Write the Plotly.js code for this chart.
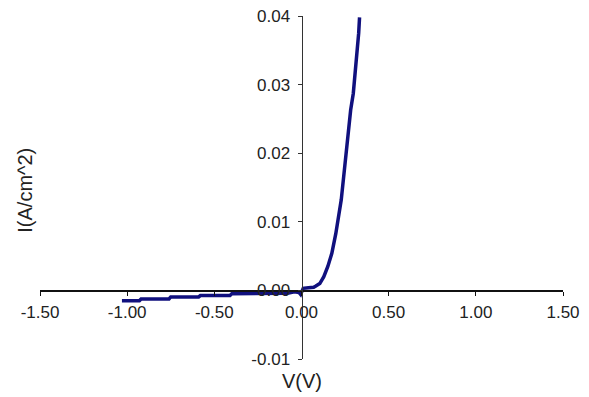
<!DOCTYPE html>
<html>
<head>
<meta charset="utf-8">
<script src="https://cdn.plot.ly/plotly-3.0.1.min.js"></script>
<style>html,body{margin:0;padding:0;background:#fff;}#chart{width:589px;height:397px;}</style>
</head>
<body>
<div id="chart"></div>
<script>
// Voltage (V) and current density (A/cm^2)
const voltage = [-1.03, -0.93, -0.92, -0.76, -0.75, -0.59, -0.58, -0.41, -0.40, -0.20, -0.08, -0.04, -0.015, -0.005, 0.005, 0.01, 0.04, 0.07, 0.08, 0.105, 0.128, 0.151, 0.174, 0.197, 0.228, 0.247, 0.266, 0.282, 0.297, 0.312, 0.328, 0.333];
const current = [-0.0015, -0.0015, -0.00124, -0.00124, -0.00095, -0.00095, -0.00075, -0.00075, -0.0005, -0.00045, -0.0004, -0.0002, -0.0003, -0.0006, -0.0001, 0.0003, 0.0004, 0.00045, 0.0006, 0.0010, 0.0020, 0.0035, 0.0054, 0.0083, 0.0132, 0.0180, 0.0229, 0.0263, 0.0287, 0.0326, 0.0375, 0.0398];

const xTickVals = [-1.5, -1.0, -0.5, 0, 0.5, 1.0, 1.5];
const xTickText = ['-1.50', '-1.00', '-0.50', '0.00', '0.50', '1.00', '1.50'];
const yTickVals = [-0.01, 0, 0.01, 0.02, 0.03, 0.04];
const yTickText = ['-0.01', '0.00', '0.01', '0.02', '0.03', '0.04'];

const xTitle = 'V(V)';
const yTitle = 'I(A/cm^2)';

const xRange = [-1.5, 1.5];
const yRange = [-0.01, 0.04];

const tickFont = {family: 'Liberation Sans, Arial, sans-serif', size: 17, color: '#222'};
const titleFont = {family: 'Liberation Sans, Arial, sans-serif', size: 20, color: '#222'};

const trace = {
  x: voltage, y: current, type: 'scatter', mode: 'lines',
  line: {color: '#10107e', width: 3.5}, hoverinfo: 'skip'
};

const layout = {
  width: 589, height: 397,
  margin: {l: 40, r: 26, t: 16, b: 38},
  paper_bgcolor: '#fff', plot_bgcolor: '#fff',
  showlegend: false,
  font: tickFont,
  xaxis: {
    range: xRange, anchor: 'free',
    position: (0 - yRange[0]) / (yRange[1] - yRange[0]),
    showline: true, linecolor: '#111', linewidth: 1.2,
    ticks: 'outside', ticklen: 4, tickcolor: '#111', tickwidth: 1,
    tickvals: xTickVals, ticktext: xTickText, ticklabelstandoff: 2,
    showgrid: false, zeroline: false, tickfont: tickFont
  },
  yaxis: {
    range: yRange, anchor: 'free',
    position: (0 - xRange[0]) / (xRange[1] - xRange[0]),
    showline: true, linecolor: '#333', linewidth: 1.2,
    ticks: 'outside', ticklen: 4, tickcolor: '#333', tickwidth: 1,
    tickvals: yTickVals, ticktext: yTickText, ticklabelstandoff: 4,
    showgrid: false, zeroline: false, tickfont: tickFont
  },
  annotations: [
    {text: xTitle, xref: 'paper', yref: 'paper', x: 0.5, y: -0.064,
     xanchor: 'center', yanchor: 'middle', showarrow: false, font: titleFont},
    {text: yTitle, xref: 'paper', yref: 'paper', x: -0.029, y: 0.493,
     xanchor: 'center', yanchor: 'middle', showarrow: false, textangle: -90, font: titleFont}
  ]
};

Plotly.newPlot('chart', [trace], layout, {staticPlot: true, displayModeBar: false});
</script>
</body>
</html>
